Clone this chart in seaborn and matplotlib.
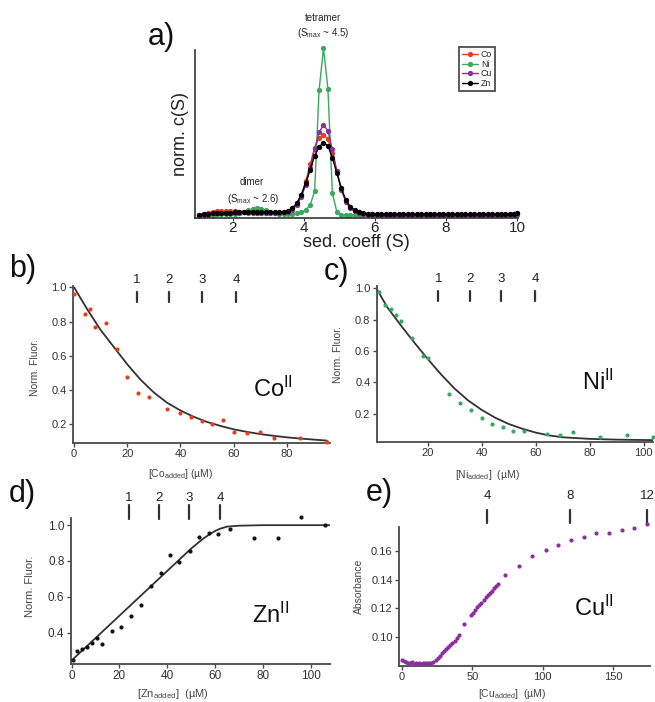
import numpy as np
import pandas as pd
import matplotlib
matplotlib.use("Agg")
import matplotlib.pyplot as plt
import matplotlib.transforms as mtransforms
import seaborn as sns

# ---------------- data: panel a (c(S) distributions) ----------------
s_grid = [1.05, 1.175, 1.3, 1.425, 1.55, 1.675, 1.8, 1.925, 2.05, 2.175, 2.3, 2.425,
          2.55, 2.675, 2.8, 2.925, 3.05, 3.175, 3.3, 3.425, 3.55, 3.675, 3.8, 3.925,
          4.05, 4.175, 4.3, 4.425, 4.55, 4.675, 4.8, 4.925, 5.05, 5.175, 5.3, 5.425,
          5.55, 5.675, 5.8, 5.925, 6.05, 6.175, 6.3, 6.425, 6.55, 6.675, 6.8, 6.925,
          7.05, 7.175, 7.3, 7.425, 7.55, 7.675, 7.8, 7.925, 8.05, 8.175, 8.3, 8.425,
          8.55, 8.675, 8.8, 8.925, 9.05, 9.175, 9.3, 9.425, 9.55, 9.675, 9.8, 9.925, 10.0]

cs_co = [0.012, 0.018, 0.024, 0.029, 0.032, 0.034, 0.034, 0.033, 0.031, 0.028, 0.025, 0.023,
         0.021, 0.020, 0.019, 0.019, 0.019, 0.020, 0.022, 0.026, 0.034, 0.050, 0.080, 0.130,
         0.210, 0.310, 0.410, 0.470, 0.485, 0.460, 0.380, 0.270, 0.170, 0.100, 0.055, 0.035,
         0.025, 0.018, 0.015, 0.013, 0.012, 0.012, 0.012, 0.012, 0.012, 0.012, 0.012, 0.012,
         0.012, 0.012, 0.012, 0.012, 0.012, 0.012, 0.012, 0.012, 0.012, 0.012, 0.012, 0.012,
         0.012, 0.012, 0.012, 0.012, 0.012, 0.012, 0.012, 0.012, 0.012, 0.012, 0.013, 0.014, 0.020]

cs_ni = [0.006, 0.009, 0.011, 0.012, 0.013, 0.014, 0.015, 0.016, 0.018, 0.022, 0.030, 0.039,
         0.046, 0.050, 0.048, 0.040, 0.030, 0.022, 0.018, 0.016, 0.016, 0.017, 0.020, 0.026,
         0.040, 0.070, 0.150, 0.750, 1.000, 0.760, 0.140, 0.030, 0.012, 0.009, 0.008, 0.008,
         0.008, 0.008, 0.008, 0.008, 0.008, 0.008, 0.008, 0.008, 0.008, 0.008, 0.008, 0.008,
         0.008, 0.008, 0.008, 0.008, 0.008, 0.008, 0.008, 0.008, 0.008, 0.008, 0.008, 0.008,
         0.008, 0.008, 0.008, 0.008, 0.008, 0.008, 0.008, 0.008, 0.008, 0.008, 0.008, 0.009, 0.012]

cs_cu = [0.008, 0.012, 0.016, 0.019, 0.021, 0.022, 0.023, 0.023, 0.024, 0.024, 0.025, 0.025,
         0.025, 0.024, 0.023, 0.022, 0.022, 0.022, 0.023, 0.025, 0.030, 0.042, 0.070, 0.115,
         0.190, 0.290, 0.400, 0.500, 0.545, 0.510, 0.400, 0.270, 0.160, 0.090, 0.050, 0.032,
         0.022, 0.016, 0.013, 0.012, 0.011, 0.011, 0.011, 0.011, 0.011, 0.011, 0.011, 0.011,
         0.011, 0.011, 0.011, 0.011, 0.011, 0.011, 0.011, 0.011, 0.011, 0.011, 0.011, 0.011,
         0.011, 0.011, 0.011, 0.011, 0.011, 0.011, 0.011, 0.011, 0.011, 0.011, 0.012, 0.013, 0.018]

cs_zn = [0.010, 0.014, 0.017, 0.019, 0.021, 0.022, 0.023, 0.024, 0.025, 0.026, 0.026, 0.026,
         0.026, 0.026, 0.026, 0.025, 0.025, 0.025, 0.026, 0.028, 0.035, 0.050, 0.080, 0.130,
         0.200, 0.280, 0.360, 0.415, 0.440, 0.420, 0.350, 0.260, 0.170, 0.100, 0.060, 0.040,
         0.030, 0.022, 0.018, 0.016, 0.015, 0.015, 0.014, 0.014, 0.014, 0.014, 0.013, 0.013,
         0.013, 0.013, 0.013, 0.013, 0.013, 0.013, 0.013, 0.013, 0.013, 0.013, 0.013, 0.013,
         0.013, 0.013, 0.013, 0.013, 0.013, 0.013, 0.013, 0.013, 0.013, 0.013, 0.014, 0.016, 0.024]

metals = ["Co", "Ni", "Cu", "Zn"]
metal_colors = ["#e5401e", "#3aa85e", "#8c2ea0", "#000000"]

# ---------------- data: panel b (Co titration) ----------------
co_x = [0, 4, 6, 8, 12, 16, 20, 24, 28, 35, 40, 44, 48, 52, 56, 60, 65, 70, 75, 85, 95]
co_y = [0.96, 0.846, 0.872, 0.766, 0.794, 0.642, 0.478, 0.384, 0.361, 0.291, 0.266, 0.240,
        0.219, 0.199, 0.227, 0.157, 0.146, 0.157, 0.120, 0.120, 0.097]
co_fit_x = [0, 5, 10, 15, 20, 25, 30, 35, 40, 45, 50, 55, 60, 65, 70, 75, 80, 85, 90, 95]
co_fit_y = [1.0, 0.87, 0.75, 0.65, 0.55, 0.46, 0.385, 0.325, 0.28, 0.243, 0.213, 0.19,
            0.17, 0.155, 0.142, 0.132, 0.123, 0.116, 0.11, 0.104]
co_marks = [23.7, 35.7, 48, 61]
co_mark_labels = ["1", "2", "3", "4"]

# ---------------- data: panel c (Ni titration) ----------------
ni_x = [2.1, 4.2, 6.3, 8.1, 10.1, 14.3, 18.4, 20.2, 27.9, 32, 35.9, 40, 43.7, 47.8,
        51.7, 55.8, 64.4, 69.1, 74, 83.8, 93.7, 103.4]
ni_y = [0.974, 0.894, 0.868, 0.832, 0.794, 0.683, 0.566, 0.555, 0.328, 0.268, 0.221, 0.172,
        0.136, 0.115, 0.091, 0.087, 0.070, 0.062, 0.081, 0.049, 0.066, 0.055]
ni_fit_x = [1, 5, 10, 15, 20, 25, 30, 35, 40, 45, 50, 55, 60, 65, 70, 80, 90, 103.5]
ni_fit_y = [1.0, 0.88, 0.765, 0.655, 0.55, 0.45, 0.36, 0.285, 0.225, 0.175, 0.135, 0.105,
            0.08, 0.062, 0.05, 0.04, 0.035, 0.032]
ni_marks = [24, 35.6, 47.3, 59.8]
ni_mark_labels = ["1", "2", "3", "4"]

# ---------------- data: panel d (Zn titration) ----------------
zn_x = [0.4, 2.3, 4.4, 6.5, 8.6, 10.8, 12.5, 16.7, 20.7, 24.9, 28.8, 33, 37.3, 41.1, 45,
        49.3, 53.3, 57.4, 61.3, 66.3, 76.2, 86.4, 96, 106]
zn_y = [0.247, 0.297, 0.309, 0.318, 0.341, 0.368, 0.336, 0.411, 0.430, 0.493, 0.555, 0.662,
        0.733, 0.831, 0.795, 0.858, 0.932, 0.959, 0.952, 0.977, 0.929, 0.929, 1.045, 1.0]
zn_fit_x = [0, 10, 20, 30, 40, 50, 55, 58, 60, 62, 65, 70, 80, 108]
zn_fit_y = [0.245, 0.37, 0.495, 0.62, 0.745, 0.87, 0.925, 0.952, 0.968, 0.98, 0.992, 0.997, 1.0, 1.0]
zn_marks = [24, 36.5, 49, 62]
zn_mark_labels = ["1", "2", "3", "4"]

# ---------------- data: panel e (Cu absorbance) ----------------
cu_x = [0, 1.5, 3, 4.5, 6, 7.5, 9, 10.5, 12, 13.5, 15, 16.5, 18, 19.5, 21, 22.5,
        24, 25.5, 27, 28.5, 30, 31.5, 33, 34.5, 36, 37.5, 39, 40.5, 44, 49, 50.5, 52,
        53.5, 55, 56.5, 58, 59.5, 61, 62.5, 64, 65.5, 67, 68.5, 73.5, 83, 92.5, 102,
        111, 120, 129, 138, 147, 156, 165, 174]
cu_y = [0.084, 0.083, 0.0825, 0.082, 0.0815, 0.0825, 0.081, 0.0815, 0.082, 0.081, 0.0815,
        0.082, 0.0815, 0.082, 0.082, 0.0825, 0.084, 0.0855, 0.087, 0.0885, 0.090, 0.0915,
        0.093, 0.0945, 0.096, 0.0975, 0.099, 0.1015, 0.109, 0.1155, 0.117, 0.119, 0.121,
        0.1225, 0.124, 0.126, 0.128, 0.1295, 0.131, 0.1325, 0.134, 0.1355, 0.137, 0.1435,
        0.150, 0.1565, 0.161, 0.1645, 0.168, 0.170, 0.1725, 0.173, 0.175, 0.1765, 0.179]
cu_marks = [60.5, 119, 174]
cu_mark_labels = ["4", "8", "12"]

# ---------------- styling ----------------
sns.set_theme(style="ticks")
plt.rcParams["font.family"] = ["Liberation Sans", "DejaVu Sans"]
plt.rcParams["mathtext.fontset"] = "custom"
plt.rcParams["mathtext.rm"] = "Liberation Sans"
plt.rcParams["mathtext.it"] = "Liberation Sans:italic"
plt.rcParams["mathtext.bf"] = "Liberation Sans:bold"

W, H = 655, 702
fig = plt.figure(figsize=(W / 100, H / 100), dpi=100)
fig.patch.set_facecolor("white")


def axes_px(l, r, t, b):
    return fig.add_axes([l / W, 1 - b / H, (r - l) / W, (b - t) / H])


SPINE = "#4a4a4a"


def style_small(ax):
    sns.despine(ax=ax)
    for sp in ("left", "bottom"):
        ax.spines[sp].set_color(SPINE)
        ax.spines[sp].set_linewidth(1.3)
    ax.tick_params(direction="out", length=3, width=1, colors=SPINE,
                   labelcolor="#333333", labelsize=8, pad=1.5)
    ax.set_facecolor("white")


def add_marks(ax, xs, labels, y0, y1, ytext):
    tr = mtransforms.blended_transform_factory(ax.transData, ax.transAxes)
    for x, lab in zip(xs, labels):
        ax.plot([x, x], [y0, y1], transform=tr, color="#333333", lw=1.6, clip_on=False)
        ax.text(x, ytext, lab, transform=tr, ha="center", va="center",
                fontsize=9.5, color="#222222", clip_on=False)


def metal_label(ax, sym, x, y):
    ax.text(x, y, sym + r"$^{\mathrm{II}}$", transform=ax.transAxes, fontsize=17,
            ha="left", va="baseline", color="#111111")


# ---------------- panel a ----------------
axa = axes_px(195, 518, 50, 218)
df_a = pd.DataFrame({
    "S": s_grid * 4,
    "c": cs_co + cs_ni + cs_cu + cs_zn,
    "metal": sum([[m] * len(s_grid) for m in metals], []),
})
sns.lineplot(data=df_a, x="S", y="c", hue="metal", hue_order=metals,
             palette=dict(zip(metals, metal_colors)), marker="o", markersize=3.8,
             markeredgewidth=0, linewidth=1.0, estimator=None, sort=False, ax=axa,
             clip_on=False)
axa.set_xlim(0.93, 10.03)
axa.set_ylim(-0.008, 0.99)
sns.despine(ax=axa)
for sp in ("left", "bottom"):
    axa.spines[sp].set_color("#333333")
    axa.spines[sp].set_linewidth(1.2)
axa.set_xticks([2, 4, 6, 8, 10])
axa.set_yticks([])
axa.tick_params(axis="x", direction="out", length=2, width=0.8, colors="#333333",
                labelcolor="#222222", labelsize=11, pad=0.5)
axa.set_xlabel("sed. coeff (S)", fontsize=13, labelpad=-1, color="#222222")
axa.set_ylabel("norm. c(S)", fontsize=13, labelpad=4, color="#222222")
leg = axa.legend(loc="upper right", bbox_to_anchor=(0.929, 1.02), fontsize=6.3,
                 frameon=True, fancybox=False, handlelength=1.8, handletextpad=0.3,
                 borderpad=0.35, labelspacing=0.1, borderaxespad=0)
leg.get_frame().set_edgecolor("#222222")
leg.get_frame().set_linewidth(1.3)
btr = mtransforms.blended_transform_factory(axa.transData, axa.transAxes)
axa.text(4.54, 1.19, "tetramer", transform=btr, ha="center", va="center",
         fontsize=7, clip_on=False)
axa.text(4.54, 1.10, r"(S$_{\mathrm{max}}$ ~ 4.5)", transform=btr, ha="center",
         va="center", fontsize=7, clip_on=False)
axa.text(2.53, 0.205, "dimer", ha="center", va="center", fontsize=7)
axa.text(2.56, 0.105, r"(S$_{\mathrm{max}}$ ~ 2.6)", ha="center", va="center", fontsize=7)

# ---------------- panel b ----------------
axb = axes_px(73, 330, 285.6, 443)
sns.lineplot(x=co_fit_x, y=co_fit_y, color="#333333", linewidth=1.3, estimator=None,
             sort=False, ax=axb)
sns.scatterplot(x=co_x, y=co_y, color="#e5401e", s=9, linewidth=0, ax=axb, zorder=3,
                clip_on=False)
axb.set_xlim(-0.4, 96.2)
axb.set_ylim(0.09, 1.01)
axb.set_xticks([0, 20, 40, 60, 80])
axb.set_yticks([0.2, 0.4, 0.6, 0.8, 1.0])
axb.set_yticklabels(["0.2", "0.4", "0.6", "0.8", "1.0"])
style_small(axb)
axb.set_ylabel("Norm. Fluor.", fontsize=7.5, color="#444444")
axb.yaxis.set_label_coords(-0.128, 0.48)
axb.set_xlabel(r"[Co$_{\mathrm{added}}$] (µM)", fontsize=7.5, color="#444444")
axb.xaxis.set_label_coords(0.42, -0.15)
add_marks(axb, co_marks, co_mark_labels, 0.898, 0.961, 1.035)
metal_label(axb, "Co", 0.70, 0.29)

# ---------------- panel c ----------------
axc = axes_px(376.7, 653, 286, 442)
sns.lineplot(x=ni_fit_x, y=ni_fit_y, color="#333333", linewidth=1.3, estimator=None,
             sort=False, ax=axc)
sns.scatterplot(x=ni_x, y=ni_y, color="#3aa85e", s=9, linewidth=0, ax=axc, zorder=3,
                clip_on=False)
axc.set_xlim(1.1, 103.5)
axc.set_ylim(0.02, 1.015)
axc.set_xticks([20, 40, 60, 80, 100])
axc.set_yticks([0.2, 0.4, 0.6, 0.8, 1.0])
axc.set_yticklabels(["0.2", "0.4", "0.6", "0.8", "1.0"])
style_small(axc)
axc.set_ylabel("Norm. Fluor.", fontsize=7.5, color="#444444")
axc.yaxis.set_label_coords(-0.122, 0.56)
axc.set_xlabel(r"[Ni$_{\mathrm{added}}$]  (µM)", fontsize=7.5, color="#444444")
axc.xaxis.set_label_coords(0.40, -0.165)
add_marks(axc, ni_marks, ni_mark_labels, 0.904, 0.968, 1.045)
metal_label(axc, "Ni", 0.743, 0.333)

# ---------------- panel d ----------------
axd = axes_px(70.7, 330, 518, 664)
sns.lineplot(x=zn_fit_x, y=zn_fit_y, color="#333333", linewidth=1.3, estimator=None,
             sort=False, ax=axd)
sns.scatterplot(x=zn_x, y=zn_y, color="#111111", s=9, linewidth=0, ax=axd, zorder=3,
                clip_on=False)
axd.set_xlim(-0.4, 108)
axd.set_ylim(0.225, 1.04)
axd.set_xticks([0, 20, 40, 60, 80, 100])
axd.set_yticks([0.4, 0.6, 0.8, 1.0])
axd.set_yticklabels(["0.4", "0.6", "0.8", "1.0"])
style_small(axd)
axd.tick_params(labelsize=8.5)
axd.set_ylabel("Norm. Fluor.", fontsize=8, color="#444444")
axd.yaxis.set_label_coords(-0.138, 0.53)
axd.set_xlabel(r"[Zn$_{\mathrm{added}}$]  (µM)", fontsize=8, color="#444444")
axd.xaxis.set_label_coords(0.395, -0.155)
add_marks(axd, zn_marks, zn_mark_labels, 0.99, 1.09, 1.14)
metal_label(axd, "Zn", 0.70, 0.283)

# ---------------- panel e ----------------
axe = axes_px(399, 650, 527, 666)
sns.scatterplot(x=cu_x, y=cu_y, color="#8c2ea0", s=9, linewidth=0, ax=axe, zorder=3,
                clip_on=False)
axe.set_xlim(-1.9, 176)
axe.set_ylim(0.0797, 0.177)
axe.set_xticks([0, 50, 100, 150])
axe.set_yticks([0.10, 0.12, 0.14, 0.16])
axe.set_yticklabels(["0.10", "0.12", "0.14", "0.16"])
style_small(axe)
axe.set_ylabel("Absorbance", fontsize=7.5, color="#444444")
axe.yaxis.set_label_coords(-0.14, 0.57)
axe.set_xlabel(r"[Cu$_{\mathrm{added}}$]  (µM)", fontsize=7.5, color="#444444")
axe.xaxis.set_label_coords(0.45, -0.15)
add_marks(axe, cu_marks, cu_mark_labels, 1.03, 1.12, 1.22)
metal_label(axe, "Cu", 0.697, 0.36)

# ---------------- panel letters ----------------
for lab, x, y in [("a)", 148, 22), ("b)", 9, 254), ("c)", 324, 257), ("d)", 9, 479), ("e)", 366, 478)]:
    fig.text(x / W, 1 - y / H, lab, fontsize=22, ha="left", va="top", color="#111111")

fig.savefig("out.png", dpi=100, facecolor="white")
